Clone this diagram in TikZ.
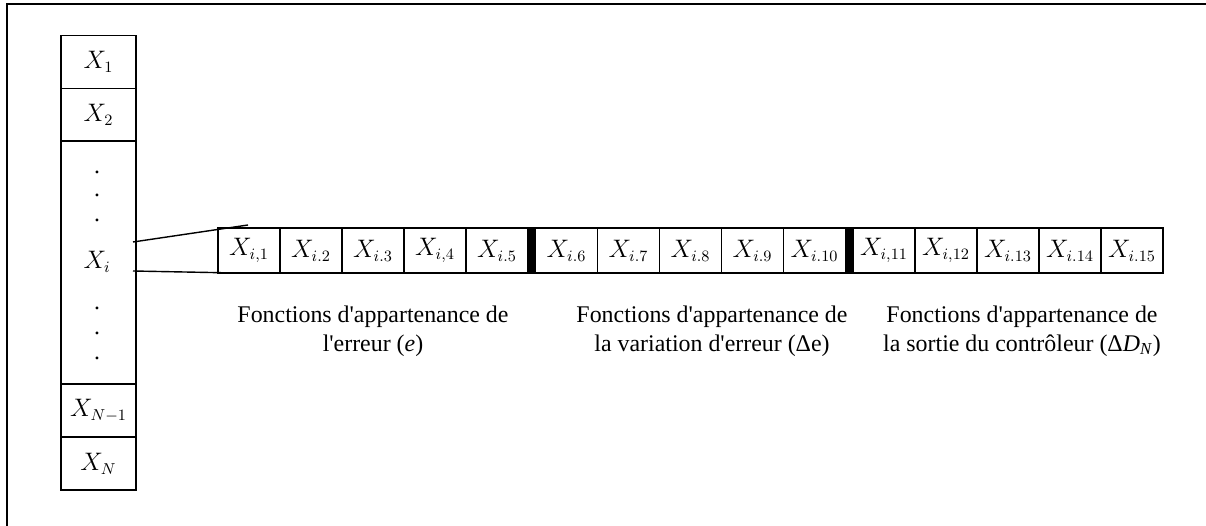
\documentclass[tikz,border=0pt]{standalone}
\usepackage{fontspec}
\setmainfont{Liberation Serif}[Ligatures=TeXOff]
\usepackage{tikz}
\usetikzlibrary{calc}
\usepackage{amsmath}

\tikzset{
  cell/.style={draw, line width=0.8pt, inner sep=0pt, minimum width=1.24cm, minimum height=0.9cm},
  colbox/.style={draw, line width=0.8pt, inner sep=0pt, minimum width=1.5cm},
  caption/.style={align=center, font=\fontsize{13.6}{16.4}\selectfont}
}

\begin{document}
\begin{tikzpicture}[x=0.02cm, y=-0.02cm, font=\fontsize{13.5}{15}\selectfont]
  \useasboundingbox (0,0) rectangle (1206,526);
  \draw[line width=1.4pt] (7,526) -- (7,4) -- (1206,4);

  \node[colbox, minimum height=1.06cm] (x1) at (98.5,62) {$X_1$};
  \node[colbox, minimum height=1.06cm] (x2) at (98.5,115) {$X_2$};
  \node[colbox, minimum height=4.86cm] (xmid) at (98.5,262.5) {};
  \node[colbox, minimum height=1.06cm] (xn1) at (98.5,410.5) {$X_{N-1}$};
  \node[colbox, minimum height=1.06cm] (xn) at (98.5,463.5) {$X_N$};
  \foreach \y in {172,195,220,308,333,358}
    \node at (97,\y) {.};
  \node (xi) at (97,262) {$X_i$};

  \foreach \n/\s in {1/{i,1},2/{i.2},3/{i.3},4/{i,4},5/{i.5},
                     6/{i.6},7/{i.7},8/{i.8},9/{i.9},10/{i.10},
                     11/{i,11},12/{i,12},13/{i.13},14/{i.14},15/{i.15}} {
    \pgfmathsetmacro{\g}{int((\n-1)/5)}
    \pgfmathsetmacro{\k}{mod(\n-1,5)}
    \node[cell] (m\n) at ({249+317.5*\g+62*\k},250.5) {$X_{\s}$};
  }
  \fill ($(m5.north east)$) rectangle ($(m6.south west)$);
  \fill ($(m10.north east)$) rectangle ($(m11.south west)$);

  \coordinate (up) at (133,242);
  \coordinate (upend) at (248,225);
  \coordinate (low) at (133,271);
  \coordinate (lowend) at (236,273);
  \draw[line width=0.8pt] (up) -- (upend);
  \draw[line width=0.8pt] (low) -- (lowend);

  \node[caption] (c1) at (373,331) {Fonctions d'appartenance de\\l'erreur (\textit{e})};
  \node[caption] (c2) at (712,331) {Fonctions d'appartenance de\\la variation d'erreur (Δe)};
  \node[caption] (c3) at (1022,331) {Fonctions d'appartenance de\\la sortie du contrôleur (Δ\textit{D}\textsubscript{\textit{N}})};
\end{tikzpicture}
\end{document}
